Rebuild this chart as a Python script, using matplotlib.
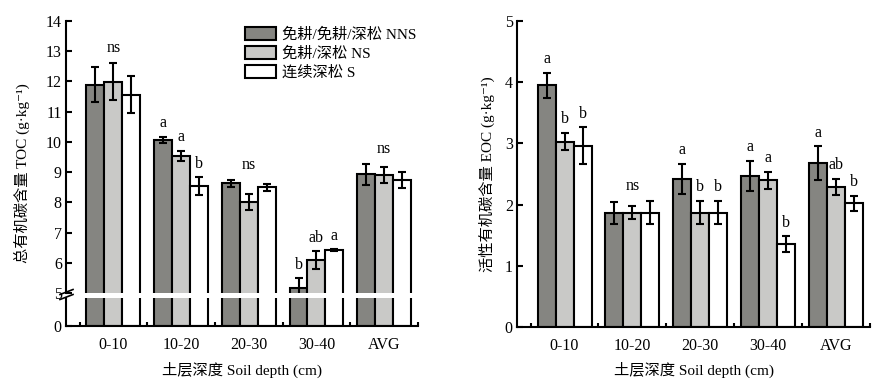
import numpy as np
import matplotlib
matplotlib.use("Agg")
import matplotlib.pyplot as plt
from matplotlib.lines import Line2D

plt.rcParams['font.family'] = ['Liberation Serif', 'Noto Sans CJK SC', 'DejaVu Sans']
plt.rcParams['font.size'] = 11

## data
groups = ['0-10', '10-20', '20-30', '30-40', 'AVG']
series = ['免耕/免耕/深松 NNS', '免耕/深松 NS', '连续深松 S']

toc_nns = [11.89, 10.06, 8.63, 5.16, 8.93]
toc_nns_err = [0.58, 0.10, 0.12, 0.33, 0.35]
toc_ns = [11.99, 9.53, 8.02, 6.09, 8.91]
toc_ns_err = [0.62, 0.17, 0.26, 0.29, 0.27]
toc_s = [11.56, 8.53, 8.50, 6.42, 8.73]
toc_s_err = [0.62, 0.30, 0.12, 0.03, 0.27]
toc_sig = [['ns'], ['a', 'a', 'b'], ['ns'], ['b', 'ab', 'a'], ['ns']]

eoc_nns = [3.95, 1.87, 2.42, 2.47, 2.68]
eoc_nns_err = [0.20, 0.18, 0.25, 0.25, 0.27]
eoc_ns = [3.03, 1.87, 1.87, 2.40, 2.29]
eoc_ns_err = [0.14, 0.11, 0.19, 0.14, 0.13]
eoc_s = [2.96, 1.87, 1.87, 1.35, 2.02]
eoc_s_err = [0.30, 0.19, 0.19, 0.13, 0.12]
eoc_sig = [['a', 'b', 'b'], ['ns'], ['a', 'b', 'b'], ['a', 'a', 'b'], ['a', 'ab', 'b']]

colors = ['#858581', '#c9c9c7', '#ffffff']
W = 0.265
x = np.arange(len(groups))
offs = [-W, 0, W]
LW = 1.5


def style(ax, show_bottom=True):
    ax.spines['top'].set_visible(False)
    ax.spines['right'].set_visible(False)
    ax.spines['left'].set_linewidth(LW)
    ax.spines['bottom'].set_linewidth(LW)
    ax.spines['bottom'].set_visible(show_bottom)
    ax.set_xlim(-0.7, 4.5)
    ax.tick_params(axis='y', direction='in', length=4, width=LW, pad=3, labelsize=11.5)
    if show_bottom:
        ax.set_xticks(x)
        ax.set_xticklabels(groups)
        ax.set_xticks(np.arange(-0.5, 4.6, 1), minor=True)
        ax.tick_params(axis='x', which='major', length=0, pad=8, labelsize=11.5)
        ax.tick_params(axis='x', which='minor', direction='in', length=3, width=LW)
    else:
        ax.set_xticks([])


def bars(ax, vals, errs, draw_err=True):
    out = []
    for k in range(3):
        b = ax.bar(x + offs[k], vals[k], W, color=colors[k], edgecolor='black',
                   linewidth=LW, zorder=2, label=series[k])
        out.append(b)
        if draw_err:
            ax.errorbar(x + offs[k], vals[k], yerr=errs[k], fmt='none', ecolor='black',
                        elinewidth=LW, capsize=3, capthick=LW, zorder=3)
    return out


def letters(ax, vals, errs, sig):
    for i in range(len(groups)):
        tops = [vals[k][i] + errs[k][i] for k in range(3)]
        if len(sig[i]) == 1:
            ax.annotate(sig[i][0], (x[i], max(tops)), xytext=(0, 5), textcoords='offset points',
                        ha='center', va='bottom', fontsize=11.5, annotation_clip=False)
        else:
            for k in range(3):
                ax.annotate(sig[i][k], (x[i] + offs[k], tops[k]), xytext=(0, 4),
                            textcoords='offset points', ha='center', va='bottom',
                            fontsize=11.5, annotation_clip=False)


fig = plt.figure(figsize=(8.86, 3.89), dpi=100)
FW, FH = 886.0, 389.0

# left panel: broken axis
axT = fig.add_axes([66 / FW, 1 - 293 / FH, 352 / FW, (293 - 21) / FH])
axB = fig.add_axes([66 / FW, 1 - 326 / FH, 352 / FW, (326 - 298) / FH])
toc = [toc_nns, toc_ns, toc_s]
toc_err = [toc_nns_err, toc_ns_err, toc_s_err]
handles = bars(axT, toc, toc_err)
bars(axB, toc, toc_err, draw_err=False)
axT.set_ylim(5, 14)
axT.set_yticks(range(5, 15))
style(axT, show_bottom=False)
axB.set_ylim(0, 4.2)
axB.set_yticks([0])
style(axB)
letters(axT, toc, toc_err, toc_sig)

# break marks on the left spine
for yy in (292, 297):
    fig.add_artist(Line2D([60 / FW, 73 / FW], [1 - (yy + 2.5) / FH, 1 - (yy - 2.5) / FH],
                          transform=fig.transFigure, color='black', lw=1.2))

axT.legend(handles=handles, loc='upper left', bbox_to_anchor=(245 / FW, 1 - 27 / FH),
           bbox_transform=fig.transFigure, frameon=False, borderpad=0, borderaxespad=0,
           handlelength=2.0, handleheight=0.9, handletextpad=0.4, labelspacing=0.3,
           fontsize=11)

# right panel
axR = fig.add_axes([517 / FW, 1 - 327 / FH, 353 / FW, (327 - 21) / FH])
eoc = [eoc_nns, eoc_ns, eoc_s]
eoc_err = [eoc_nns_err, eoc_ns_err, eoc_s_err]
bars(axR, eoc, eoc_err)
axR.set_ylim(0, 5)
axR.set_yticks(range(0, 6))
style(axR)
letters(axR, eoc, eoc_err, eoc_sig)

fig.text(22 / FW, 1 - 173 / FH, '总有机碳含量 TOC (g·kg⁻¹)', rotation=90,
         ha='center', va='center', fontsize=11)
fig.text(487 / FW, 1 - 174 / FH, '活性有机碳含量 EOC (g·kg⁻¹)', rotation=90,
         ha='center', va='center', fontsize=11)
fig.text(242 / FW, 1 - 370 / FH, '土层深度 Soil depth (cm)', ha='center', va='center', fontsize=11)
fig.text(694 / FW, 1 - 370 / FH, '土层深度 Soil depth (cm)', ha='center', va='center', fontsize=11)

fig.savefig('out.png', dpi=100)
